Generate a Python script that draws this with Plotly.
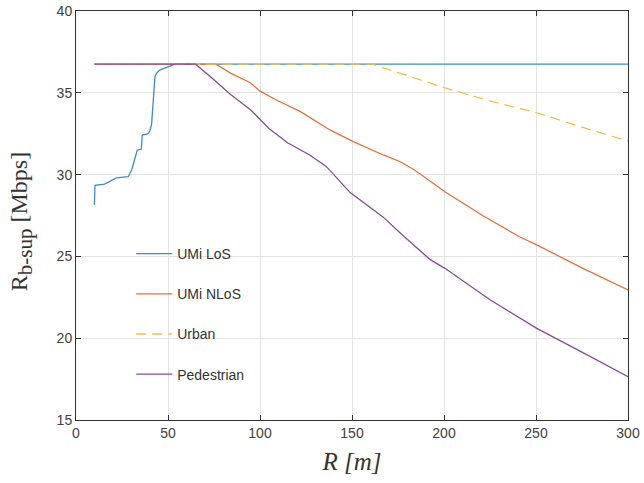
import plotly.graph_objects as go

# Data
los_x = [10, 10.3, 15.5, 16, 18.5, 22, 28.4, 30.3, 33.3, 35.5, 36.0, 39.3, 40.2, 41.1, 42.9, 43.8, 45.6, 50, 54, 300]
los_y = [28.15, 29.35, 29.42, 29.45, 29.57, 29.8, 29.87, 30.3, 31.5, 31.56, 32.42, 32.5, 32.7, 33.1, 35.98, 36.2, 36.4, 36.6, 36.75, 36.75]

nlos_x = [10, 76, 84, 95, 100, 110, 122, 130, 138, 151, 167, 176, 184, 200.5, 221, 241, 250.4, 275, 300]
nlos_y = [36.75, 36.75, 36.2, 35.6, 35.1, 34.5, 33.85, 33.3, 32.73, 32.0, 31.2, 30.8, 30.28, 28.95, 27.5, 26.2, 25.7, 24.3, 22.95]

urban_x = [10, 161, 180, 200.5, 225, 250.4, 275, 300]
urban_y = [36.75, 36.75, 36.05, 35.3, 34.5, 33.78, 32.9, 32.05]

ped_x = [10, 65, 75, 84, 95, 100, 105, 115, 127, 136, 149, 167, 176.5, 192.5, 200.5, 225, 250.4, 275, 300]
ped_y = [36.75, 36.75, 35.8, 34.9, 33.95, 33.4, 32.8, 31.95, 31.2, 30.5, 28.9, 27.4, 26.4, 24.8, 24.27, 22.35, 20.6, 19.15, 17.65]

x_ticks = [0, 50, 100, 150, 200, 250, 300]
y_ticks = [15, 20, 25, 30, 35, 40]

fig = go.Figure()
fig.add_trace(go.Scatter(x=los_x, y=los_y, mode="lines", name="UMi LoS",
                         line=dict(color="#3f8dc8", width=1.3), legendgroup="a"))
fig.add_trace(go.Scatter(x=nlos_x, y=nlos_y, mode="lines", name="UMi NLoS",
                         line=dict(color="#e0733d", width=1.3), legendgroup="b"))
fig.add_trace(go.Scatter(x=urban_x, y=urban_y, mode="lines", name="Urban",
                         line=dict(color="#efc150", width=1.3, dash="10px,6px"), legendgroup="c"))
fig.add_trace(go.Scatter(x=ped_x, y=ped_y, mode="lines", name="Pedestrian",
                         line=dict(color="#8a4a98", width=1.3), legendgroup="d"))

axis_common = dict(
    showline=True, linecolor="#333333", linewidth=1, mirror="ticks",
    ticks="inside", ticklen=5, tickcolor="#333333",
    showgrid=True, gridcolor="#e3e3e3", gridwidth=1,
    zeroline=False, automargin=False,
    tickfont=dict(family="Liberation Sans, Arial, sans-serif", size=14, color="#404040"),
)

fig.update_xaxes(range=[0, 300], tickvals=x_ticks, **axis_common,
                 title=dict(text="R [m]", font=dict(family="Liberation Serif, Times New Roman, serif",
                                                     size=25, color="#333333", style="italic"), standoff=12))
fig.update_yaxes(range=[15, 40], tickvals=y_ticks, **axis_common,
                 title=dict(text="R<sub><span style=\"font-size:21px\">b-sup</span></sub> [Mbps]&nbsp;&nbsp;",
                            font=dict(family="Liberation Serif, Times New Roman, serif",
                                      size=24, color="#333333"), standoff=22))

fig.update_layout(
    width=644, height=483,
    margin=dict(l=76, r=16, t=11, b=63),
    plot_bgcolor="white", paper_bgcolor="white",
    legend=dict(x=0.1, y=0.445, xanchor="left", yanchor="top",
                bgcolor="rgba(0,0,0,0)", borderwidth=0, itemwidth=36,
                font=dict(family="Liberation Sans, Arial, sans-serif", size=14, color="#333333"),
                tracegroupgap=19, traceorder="grouped"),
    showlegend=True,
)

fig.write_html("out.html")
